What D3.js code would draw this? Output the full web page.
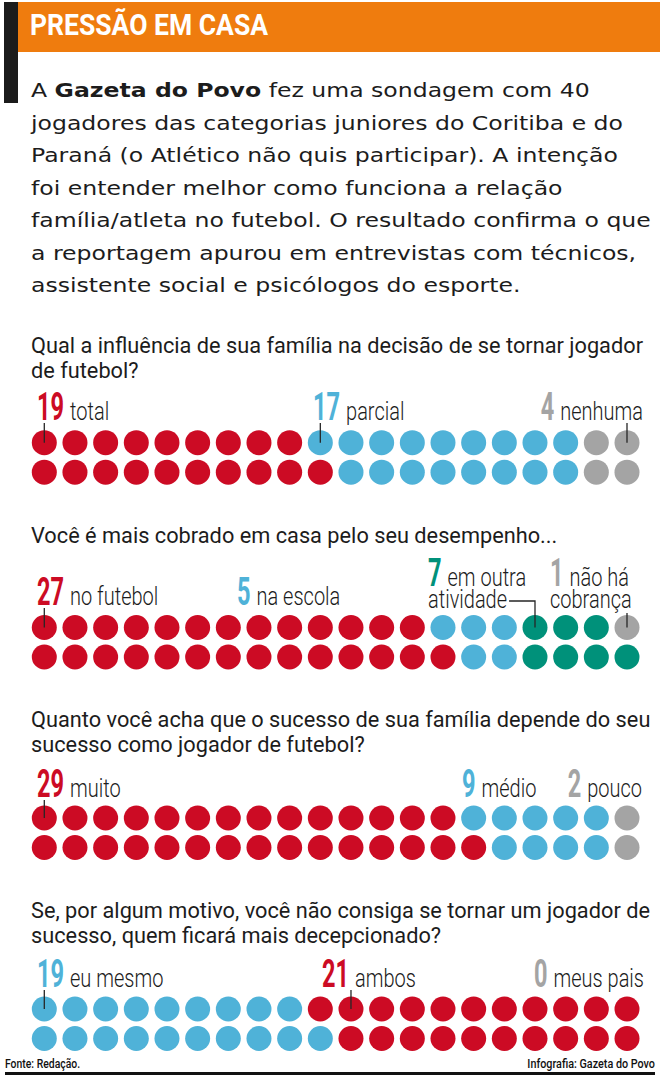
<!DOCTYPE html>
<html>
<head>
<meta charset="utf-8">
<title>Pressão em casa</title>
<script src="https://d3js.org/d3.v7.min.js"></script>
<style>
  body { margin: 0; background: #fff; }
  svg { display: block; }
  .intro { font-family: "DejaVu Sans", sans-serif; font-size: 20px; fill: #1c1c1c; }
  .q { font-family: Roboto, sans-serif; font-size: 22px; fill: #1c1c1c; }
  .lbl { font-family: Roboto, sans-serif; font-weight: 300; font-size: 25px; fill: #1c1c1c; }
  .num { font-family: Roboto, sans-serif; font-weight: 700; font-size: 38px; }
  .foot { font-family: Roboto, sans-serif; font-weight: 500; font-size: 13px; fill: #111; }
</style>
</head>
<body>
<div id="chart"></div>
<script>
// ---- data ----
const title = "PRESSÃO EM CASA";
const introLines = [
    "A **Gazeta do Povo** fez uma sondagem com 40",
    "jogadores das categorias juniores do Coritiba e do",
    "Paraná (o Atlético não quis participar). A intenção",
    "foi entender melhor como funciona a relação",
    "família/atleta no futebol. O resultado confirma o que",
    "a reportagem apurou em entrevistas com técnicos,",
    "assistente social e psicólogos do esporte."
];
const questions = [
    ["Qual a influência de sua família na decisão de se tornar jogador", "de futebol?"],
    ["Você é mais cobrado em casa pelo seu desempenho..."],
    ["Quanto você acha que o sucesso de sua família depende do seu", "sucesso como jogador de futebol?"],
    ["Se, por algum motivo, você não consiga se tornar um jogador de", "sucesso, quem ficará mais decepcionado?"]
];
const answers = [
    ["total", "parcial", "nenhuma"],
    ["no futebol", "na escola", "em outra\natividade", "não há\ncobrança"],
    ["muito", "médio", "pouco"],
    ["eu mesmo", "ambos", "meus pais"]
];
const counts = [
    [19, 17, 4],
    [27, 5, 7, 1],
    [29, 9, 2],
    [19, 21, 0]
];
const answerColors = [
    ["red", "blue", "gray"],
    ["red", "blue", "green", "gray"],
    ["red", "blue", "gray"],
    ["blue", "red", "gray"]
];
const sourceText = "Fonte: Redação.";
const creditText = "Infografia: Gazeta do Povo";

// ---- layout ----
const width = 660, height = 1079;
const palette = { red: "#cc0b24", blue: "#4fb2d8", green: "#00917a", gray: "#a4a4a4" };
const dotTop = [442.7, 627.5, 818, 1009];
const rowGap = 29.5;
const questionBase = [352.5, 543, 727, 918];
const labelBase = [420, 605, 797, 987];
// label start (or right end) and the dot column its leader points at
const labelPos = [
    [{ x: 37, lead: 0 }, { x: 313, lead: 9 }, { right: 643, lead: 19 }],
    [{ x: 37, lead: 0 }, { x: 237 }, { x: 428, lead: 16 }, { x: 550, lead: 19 }],
    [{ x: 37, lead: 0 }, { x: 462 }, { right: 642 }],
    [{ x: 37, lead: 0 }, { x: 322, lead: 10 }, { right: 644 }]
];

const x = d3.scaleLinear().domain([0, 19]).range([44.3, 627]);

const svg = d3.select('#chart')
    .append('svg')
    .attr('width', width)
    .attr('height', height);

function squeeze(sel, k) {
    let w = 0;
    sel.each(function () {
        w = this.getComputedTextLength() * k;
        d3.select(this).attr('textLength', w).attr('lengthAdjust', 'spacingAndGlyphs');
    });
    return w;
}

// right-aligned condensed text: horizontal scale instead of textLength
function squeezeRight(sel, rx, y, k) {
    const w = sel.node().getComputedTextLength() * k;
    sel.attr('x', 0).attr('y', 0).attr('text-anchor', 'end')
        .attr('transform', `translate(${rx},${y}) scale(${k},1)`);
    return w;
}

// header
svg.append('rect').attr('x', 4).attr('y', 2).attr('width', 14).attr('height', 101).attr('fill', '#1b1b1b');
svg.append('rect').attr('x', 18).attr('y', 2).attr('width', 642).attr('height', 50).attr('fill', '#ef7c0e');
svg.append('text')
    .attr('x', 30).attr('y', 35)
    .attr('fill', '#fff')
    .style('font-family', 'Roboto, sans-serif')
    .style('font-weight', 700)
    .style('font-size', '29px')
    .attr('textLength', 238)
    .attr('lengthAdjust', 'spacingAndGlyphs')
    .text(title);

// intro paragraph, stretched so the second line fills 31..623 like the print
const introTexts = introLines.map((line, i) => {
    const t = svg.append('text').attr('class', 'intro').attr('x', 31).attr('y', 97 + i * 32.5);
    line.split('**').forEach((part, j) => {
        t.append('tspan').style('font-weight', j % 2 ? 700 : 400).text(part);
    });
    return t;
});
const introK = 592 / introTexts[1].node().getComputedTextLength();
introTexts.forEach(t => squeeze(t, introK));

// questions, condensed so the first full line reaches 643
const qTexts = [];
questions.forEach((lines, s) => {
    lines.forEach((line, i) => {
        qTexts.push(svg.append('text').attr('class', 'q')
            .attr('x', 31).attr('y', questionBase[s] + i * 25)
            .text(line));
    });
});
const qK = 612 / qTexts[0].node().getComputedTextLength();
qTexts.forEach(t => squeeze(t, qK));

// dots
counts.forEach((row, s) => {
    const dots = [];
    row.forEach((n, c) => {
        for (let k = 0; k < n; k++) dots.push(answerColors[s][c]);
    });
    svg.append('g')
        .selectAll('circle')
        .data(dots)
        .join('circle')
        .attr('cx', (d, i) => x(Math.floor(i / 2)))
        .attr('cy', (d, i) => dotTop[s] + (i % 2 === 0 ? rowGap : 0))
        .attr('r', 12.5)
        .attr('fill', d => palette[d]);
});

// labels and leader lines
answers.forEach((row, s) => {
    row.forEach((ans, c) => {
        const pos = labelPos[s][c];
        const lines = ans.split('\n');
        const base = lines.length > 1 ? labelBase[s] - 19 : labelBase[s];
        const num = svg.append('text').attr('class', 'num')
            .attr('fill', palette[answerColors[s][c]])
            .text(counts[s][c]);
        const l1 = svg.append('text').attr('class', 'lbl')
            .text(lines[0]);
        let x0;
        if (pos.right !== undefined) {
            const w1 = squeezeRight(l1, pos.right, base, 0.8);
            const nw = squeezeRight(num, pos.right - w1 - 6, base, 0.62);
            x0 = pos.right - w1 - 6 - nw;
        } else {
            x0 = pos.x;
            const nw = squeeze(num, 0.62);
            squeeze(l1, 0.8);
            num.attr('x', x0).attr('y', base);
            l1.attr('x', x0 + nw + 6).attr('y', base);
        }
        let endX = null;
        if (lines.length > 1) {
            const l2 = svg.append('text').attr('class', 'lbl')
                .attr('x', x0).attr('y', base + 22)
                .text(lines[1]);
            endX = x0 + squeeze(l2, 0.8);
        }
        if (pos.lead === undefined) return;
        const lx = x(pos.lead);
        const ly = dotTop[s];
        let path;
        if (lines.length > 1 && endX < lx - 8) {
            path = `M${endX + 2},${base + 15}H${lx}V${ly}`;
        } else if (lines.length > 1) {
            path = `M${lx},${base + 27}V${ly}`;
        } else {
            path = `M${lx},${base + 3}V${ly}`;
        }
        svg.append('path').attr('d', path)
            .attr('fill', 'none').attr('stroke', '#262626').attr('stroke-width', 1.3);
    });
});

// footer
const src = svg.append('text').attr('class', 'foot').attr('x', 5).attr('y', 1068).text(sourceText);
squeeze(src, 0.8);
const cred = svg.append('text').attr('class', 'foot').text(creditText);
squeezeRight(cred, 655, 1068, 0.83);
svg.append('line')
    .attr('x1', 5).attr('x2', 655).attr('y1', 1073.5).attr('y2', 1073.5)
    .attr('stroke', '#111').attr('stroke-width', 3);
</script>
</body>
</html>
